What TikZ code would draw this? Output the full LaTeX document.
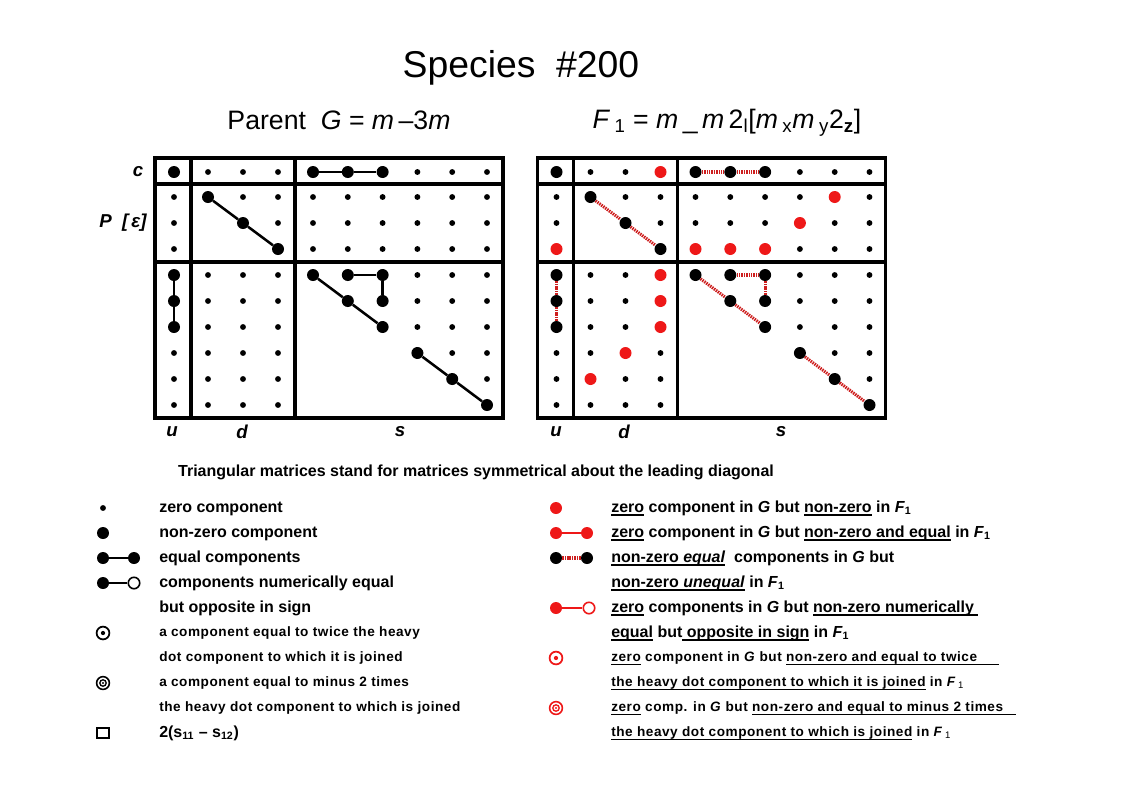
\documentclass[tikz,border=0pt]{standalone}
\usepackage{fontspec}
\setmainfont{Liberation Sans}
\definecolor{myred}{RGB}{238,24,24}
\definecolor{dotred}{RGB}{205,30,30}
\newcommand\myul[1]{\leavevmode\setbox0=\hbox{#1}\rlap{\rule[-2.6pt]{\wd0}{1.3pt}}\box0\relax}
\newcommand\smallleg{\fontsize{10.2pt}{12pt}\selectfont\bfseries\addfontfeature{LetterSpace=4}}
\newcommand\mrow[3]{\foreach \c/\t in {#3} {\node[\t] (#1-\c-#2) at (#1\c |- r#2) {};}}
\begin{document}
\begin{tikzpicture}[x=0.75pt,y=-0.75pt,
  sdot/.style={circle,fill=black,inner sep=0pt,minimum size=4.4pt},
  bdot/.style={circle,fill=black,inner sep=0pt,minimum size=9pt},
  rdot/.style={circle,fill=myred,inner sep=0pt,minimum size=9pt},
  odot/.style={circle,draw=black,fill=white,line width=1.2pt,inner sep=0pt,minimum size=8.6pt},
  rodot/.style={circle,draw=myred,fill=white,line width=1.2pt,inner sep=0pt,minimum size=8.6pt},
  ringdot/.style={circle,draw=#1,line width=1.3pt,inner sep=0pt,minimum size=9.6pt,
     path picture={\fill[#1] (path picture bounding box.center) circle (1.6pt);}},
  target/.style={circle,draw=#1,line width=1.2pt,inner sep=0pt,minimum size=9.6pt,
     path picture={\draw[#1,line width=1pt] (path picture bounding box.center) circle (2.4pt);
                   \fill[#1] (path picture bounding box.center) circle (0.9pt);}},
  sqbox/.style={rectangle,draw=black,line width=1.5pt,inner sep=0pt,minimum width=8.6pt,minimum height=7.6pt},
  eqline/.style={line width=1.9pt},
  reqline/.style={line width=1.9pt,draw=myred},
  rdotted/.style={line width=2.3pt,draw=dotred,dash pattern=on 1.1pt off 0.7pt},
  mframe/.style={line width=2.4pt},
  lab/.style={inner sep=0pt,font=\bfseries\itshape\fontsize{14pt}{16pt}\selectfont},
  leg/.style={anchor=west,inner sep=0pt,text height=8.6pt,text depth=2.4pt,font=\bfseries\fontsize{12pt}{14pt}\selectfont},
  legs/.style={anchor=west,inner sep=0pt,text height=8pt,text depth=2.2pt,font=\smallleg}]
\useasboundingbox (0,0) rectangle (1123,794);

% ---------- titles ----------
\node[inner sep=0pt,font=\fontsize{28pt}{32pt}\selectfont] (title) at (521,68) {Species\ \ \#200};
\node[inner sep=0pt,font=\fontsize{20pt}{24pt}\selectfont] (parent) at (339,120) {Parent\ \ \textit{G} = \textit{m}\,–3\textit{m}};
\node[inner sep=0pt,font=\fontsize{20pt}{24pt}\selectfont] (sub) at (727,123)
  {\textit{F}\,\textsubscript{1} = \textit{m}\,\_\,\textit{m}\,2\textsubscript{l}[\textit{m}\,\textsubscript{x}\textit{m}\,\textsubscript{y}2\textsubscript{\bfseries z}]};

% ---------- coordinates ----------
\foreach \n/\x in {u/174,d1/208,d2/243,d3/278,s1/313,s2/347.8,s3/382.6,s4/417.4,s5/452.2,s6/487}
  {\coordinate (L\n) at (\x,0); \coordinate (R\n) at (\x+382.5,0);}
\foreach \n/\y in {0/172,1/197,2/223,3/249,4/275,5/301,6/327,7/353,8/379,9/405}
  {\coordinate (r\n) at (0,\y);}

% ---------- frames ----------
\foreach \o in {0,382.5}{
  \draw[mframe] (155+\o,158) rectangle (503+\o,418);
  \draw[mframe] (191+\o,158) -- (191+\o,418);
  \draw[mframe] (295+\o,158) -- (295+\o,418);
  \draw[mframe] (155+\o,184) -- (503+\o,184);
  \draw[mframe] (155+\o,262) -- (503+\o,262);
}

% ---------- left matrix (parent G) ----------
\mrow{L}{0}{u/bdot,d1/sdot,d2/sdot,d3/sdot,s1/bdot,s2/bdot,s3/bdot,s4/sdot,s5/sdot,s6/sdot}
\mrow{L}{1}{u/sdot,d1/bdot,d2/sdot,d3/sdot,s1/sdot,s2/sdot,s3/sdot,s4/sdot,s5/sdot,s6/sdot}
\mrow{L}{2}{u/sdot,d2/bdot,d3/sdot,s1/sdot,s2/sdot,s3/sdot,s4/sdot,s5/sdot,s6/sdot}
\mrow{L}{3}{u/sdot,d3/bdot,s1/sdot,s2/sdot,s3/sdot,s4/sdot,s5/sdot,s6/sdot}
\mrow{L}{4}{u/bdot,d1/sdot,d2/sdot,d3/sdot,s1/bdot,s2/bdot,s3/bdot,s4/sdot,s5/sdot,s6/sdot}
\mrow{L}{5}{u/bdot,d1/sdot,d2/sdot,d3/sdot,s2/bdot,s3/bdot,s4/sdot,s5/sdot,s6/sdot}
\mrow{L}{6}{u/bdot,d1/sdot,d2/sdot,d3/sdot,s3/bdot,s4/sdot,s5/sdot,s6/sdot}
\mrow{L}{7}{u/sdot,d1/sdot,d2/sdot,d3/sdot,s4/bdot,s5/sdot,s6/sdot}
\mrow{L}{8}{u/sdot,d1/sdot,d2/sdot,d3/sdot,s5/bdot,s6/sdot}
\mrow{L}{9}{u/sdot,d1/sdot,d2/sdot,d3/sdot,s6/bdot}
\draw[eqline] (L-s1-0) -- (L-s2-0) -- (L-s3-0);
\draw[eqline] (L-d1-1) -- (L-d2-2) -- (L-d3-3);
\draw[eqline] (L-u-4) -- (L-u-5) -- (L-u-6);
\draw[eqline] (L-s1-4) -- (L-s2-5) -- (L-s3-6);
\draw[eqline] (L-s2-4) -- (L-s3-4) -- (L-s3-5);
\draw[eqline] (L-s4-7) -- (L-s5-8) -- (L-s6-9);

% ---------- right matrix (F1) ----------
\mrow{R}{0}{u/bdot,d1/sdot,d2/sdot,d3/rdot,s1/bdot,s2/bdot,s3/bdot,s4/sdot,s5/sdot,s6/sdot}
\mrow{R}{1}{u/sdot,d1/bdot,d2/sdot,d3/sdot,s1/sdot,s2/sdot,s3/sdot,s4/sdot,s5/rdot,s6/sdot}
\mrow{R}{2}{u/sdot,d2/bdot,d3/sdot,s1/sdot,s2/sdot,s3/sdot,s4/rdot,s5/sdot,s6/sdot}
\mrow{R}{3}{u/rdot,d3/bdot,s1/rdot,s2/rdot,s3/rdot,s4/sdot,s5/sdot,s6/sdot}
\mrow{R}{4}{u/bdot,d1/sdot,d2/sdot,d3/rdot,s1/bdot,s2/bdot,s3/bdot,s4/sdot,s5/sdot,s6/sdot}
\mrow{R}{5}{u/bdot,d1/sdot,d2/sdot,d3/rdot,s2/bdot,s3/bdot,s4/sdot,s5/sdot,s6/sdot}
\mrow{R}{6}{u/bdot,d1/sdot,d2/sdot,d3/rdot,s3/bdot,s4/sdot,s5/sdot,s6/sdot}
\mrow{R}{7}{u/sdot,d1/sdot,d2/rdot,d3/sdot,s4/bdot,s5/sdot,s6/sdot}
\mrow{R}{8}{u/sdot,d1/rdot,d2/sdot,d3/sdot,s5/bdot,s6/sdot}
\mrow{R}{9}{u/sdot,d1/sdot,d2/sdot,d3/sdot,s6/bdot}
\draw[rdotted] (R-s1-0) -- (R-s2-0) -- (R-s3-0);
\draw[rdotted] (R-d1-1) -- (R-d2-2) -- (R-d3-3);
\draw[rdotted] (R-u-4) -- (R-u-5) -- (R-u-6);
\draw[rdotted] (R-s1-4) -- (R-s2-5) -- (R-s3-6);
\draw[rdotted] (R-s2-4) -- (R-s3-4) -- (R-s3-5);
\draw[rdotted] (R-s4-7) -- (R-s5-8) -- (R-s6-9);

% ---------- matrix labels ----------
\node[lab] (lc) at (138,172) {c};
\node[lab] (lP) at (123,223) {P\ \ [{\upshape\bfseries\,}ε]};
\node[lab] (lu) at (172,432) {u};
\node[lab] (ld) at (242,432) {d};
\node[lab] (ls) at (400,432) {s};
\node[lab] (ru) at (556,432) {u};
\node[lab] (rd) at (624,432) {d};
\node[lab] (rs) at (781,432) {s};

\node[inner sep=0pt,font=\bfseries\fontsize{12pt}{14pt}\selectfont] (tri) at (476,472)
  {Triangular matrices stand for matrices symmetrical about the leading diagonal};

% ---------- left legend ----------
\node[sdot] (k1) at (103,508) {};
\node[bdot] (k2) at (103,533) {};
\node[bdot] (k3a) at (103,558) {};
\node[bdot] (k3b) at (134,558) {};
\draw[eqline] (k3a) -- (k3b);
\node[bdot] (k4a) at (103,583) {};
\node[odot] (k4b) at (134,583) {};
\draw[eqline] (k4a) -- (k4b);
\node[ringdot=black] (k5) at (103,633) {};
\node[target=black] (k6) at (103,683) {};
\node[sqbox] (k7) at (103,733) {};

\node[leg] (t1) at (159,508) {zero component};
\node[leg] (t2) at (159,533) {non-zero component};
\node[leg] (t3) at (159,558) {equal components};
\node[leg] (t4) at (159,583) {components numerically equal};
\node[leg] (t5) at (159,608) {but opposite in sign};
\node[legs] (t6) at (159,633) {a component equal to twice the heavy};
\node[legs] (t7) at (159,658) {dot component to which it is joined};
\node[legs] (t8) at (159,683) {a component equal to minus 2 times};
\node[legs] (t9) at (159,708) {the heavy dot component to which is joined};
\node[leg] (t10) at (159,733) {2(s\textsubscript{11} – s\textsubscript{12})};

% ---------- right legend ----------
\node[rdot] (m1) at (556,508) {};
\node[rdot] (m2a) at (556,533) {};
\node[rdot] (m2b) at (587,533) {};
\draw[reqline] (m2a) -- (m2b);
\node[bdot] (m3a) at (556,558) {};
\node[bdot] (m3b) at (587,558) {};
\draw[rdotted] (m3a) -- (m3b);
\node[rdot] (m4a) at (556,608) {};
\node[rodot] (m4b) at (589,608) {};
\draw[reqline] (m4a) -- (m4b);
\node[ringdot=myred] (m5) at (556,658) {};
\node[target=myred] (m6) at (556,708) {};

\node[leg] (u1) at (611,508) {\myul{zero} component in \textit{G} but \myul{non-zero} in \textit{F}\textsubscript{1}};
\node[leg] (u2) at (611,533) {\myul{zero} component in \textit{G} but \myul{non-zero and equal} in \textit{F}\textsubscript{1}};
\node[leg] (u3) at (611,558) {\myul{non-zero \textit{equal}}\ \ components in \textit{G} but};
\node[leg] (u4) at (611,583) {\myul{non-zero \textit{unequal}} in \textit{F}\textsubscript{1}};
\node[leg] (u5) at (611,608) {\myul{zero} components in \textit{G} but \myul{non-zero numerically\ }};
\node[leg] (u6) at (611,633) {\myul{equal} but\myul{ opposite in sign} in \textit{F}\textsubscript{1}};
\node[legs] (u7) at (611,658) {\myul{zero} component in \textit{G} but \myul{non-zero and equal to twice\ \ \ \ \ }};
\node[legs] (u8) at (611,683) {\myul{the heavy dot component to which it is joined} in \textit{F}\,\textsubscript{\mdseries 1}};
\node[legs] (u9) at (611,708) {\myul{zero} comp. in \textit{G} but \myul{non-zero and equal to minus 2 times\ \ \ }};
\node[legs] (u10) at (611,733) {\myul{the heavy dot component to which is joined} in \textit{F}\,\textsubscript{\mdseries 1}};
\end{tikzpicture}
\end{document}
